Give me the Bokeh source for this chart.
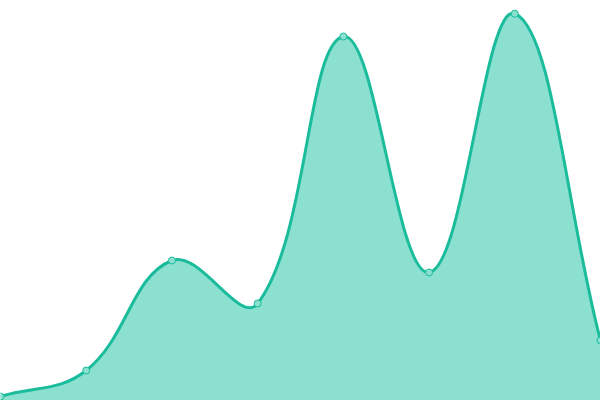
import numpy as np
from bokeh.plotting import figure
from bokeh.models import Range1d
from bokeh.embed import file_html
from bokeh.resources import INLINE

# data
xs = [0, 1, 2, 3, 4, 5, 6, 7]
ys = [1, 7.5, 35, 24.25, 91, 32, 96.7, 15]

W, H = 600, 400
XMIN, XMAX, YMIN, YMAX = 0, 7, 0, 100
LINE = "#1abc9c"
FILL = "#8ce0d0"

sx = W / (XMAX - XMIN)
sy = H / (YMAX - YMIN)
P = [((x - XMIN) * sx, (y - YMIN) * sy) for x, y in zip(xs, ys)]

# Chart.js-like spline control points (tension 0.4), computed in pixel space
t = 0.4
prevs, nexts = [], []
n = len(P)
for i in range(n):
    a = P[i - 1] if i > 0 else P[i]
    m = P[i]
    b = P[i + 1] if i < n - 1 else P[i]
    d01 = np.hypot(m[0] - a[0], m[1] - a[1])
    d12 = np.hypot(b[0] - m[0], b[1] - m[1])
    tot = d01 + d12
    s01 = d01 / tot if tot else 0
    s12 = d12 / tot if tot else 0
    fa, fb = t * s01, t * s12
    pv = (m[0] - fa * (b[0] - a[0]), m[1] - fa * (b[1] - a[1]))
    nx = (m[0] + fb * (b[0] - a[0]), m[1] + fb * (b[1] - a[1]))
    cap = lambda q: (min(max(q[0], 0), W), min(max(q[1], 0), H))
    prevs.append(cap(pv))
    nexts.append(cap(nx))

def to_data(q):
    return (q[0] / sx + XMIN, q[1] / sy + YMIN)

x0s, y0s, x1s, y1s, cx0, cy0, cx1, cy1 = ([] for _ in range(8))
fx, fy = [], []
tt = np.linspace(0, 1, 40)
for i in range(n - 1):
    p0, p3 = P[i], P[i + 1]
    c1, c2 = nexts[i], prevs[i + 1]
    d0, d1, d2, d3 = map(to_data, (p0, c1, c2, p3))
    x0s.append(d0[0]); y0s.append(d0[1])
    x1s.append(d3[0]); y1s.append(d3[1])
    cx0.append(d1[0]); cy0.append(d1[1])
    cx1.append(d2[0]); cy1.append(d2[1])
    bx = (1 - tt) ** 3 * d0[0] + 3 * (1 - tt) ** 2 * tt * d1[0] + 3 * (1 - tt) * tt ** 2 * d2[0] + tt ** 3 * d3[0]
    by = (1 - tt) ** 3 * d0[1] + 3 * (1 - tt) ** 2 * tt * d1[1] + 3 * (1 - tt) * tt ** 2 * d2[1] + tt ** 3 * d3[1]
    fx.extend(bx.tolist()); fy.extend(by.tolist())

p = figure(width=W, height=H, output_backend="svg", toolbar_location=None,
           x_range=Range1d(XMIN, XMAX), y_range=Range1d(YMIN, YMAX),
           min_border=0, min_border_left=0, min_border_right=0,
           min_border_top=0, min_border_bottom=0)
p.axis.visible = False
p.grid.visible = False
p.outline_line_color = None
p.background_fill_color = "white"
p.border_fill_color = "white"

p.patch(fx + [XMAX, XMIN], fy + [YMIN, YMIN], fill_color=FILL, line_color=None)
p.bezier(x0=x0s, y0=y0s, x1=x1s, y1=y1s, cx0=cx0, cy0=cy0, cx1=cx1, cy1=cy1,
         line_color=LINE, line_width=3)
p.scatter(xs, ys, size=7, fill_color=FILL, line_color=LINE, line_width=1)

html = file_html(p, INLINE)
html = html.replace("<head>", "<head><style>html,body{margin:0;padding:0;overflow:hidden;}</style>", 1)
open("out.html", "w").write(html)
